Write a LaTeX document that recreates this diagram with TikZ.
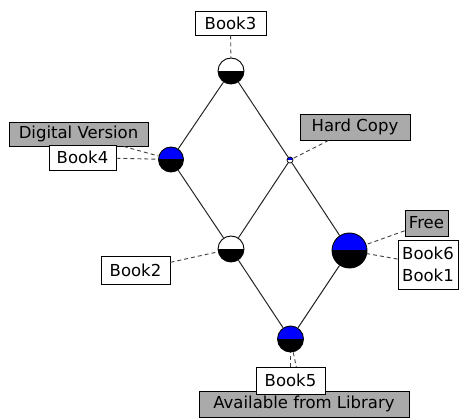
\documentclass[tikz,border=0pt]{standalone}
\usepackage{fontspec}
\setmainfont{DejaVu Sans}
\usepackage{tikz}
\definecolor{latBlue}{RGB}{0,0,255}
\definecolor{latGray}{RGB}{170,170,170}

\begin{document}
\begin{tikzpicture}[x=1pt, y=-1pt,
    concept/.style 2 args={circle, draw=black, line width=0.9pt, inner sep=0pt, minimum size=26pt,
        path picture={\fill[#1] (path picture bounding box.north west) rectangle (path picture bounding box.east);
                      \fill[#2] (path picture bounding box.west) rectangle (path picture bounding box.south east);}},
    extent/.style={rectangle, draw=black, line width=0.9pt, fill=white, inner xsep=4pt, inner ysep=2pt, minimum height=25pt, align=center, font=\fontsize{16.5}{22.5}\selectfont},
    intent/.style={extent, fill=latGray},
    hasse/.style={draw=black!85, line width=1pt},
    link/.style={draw=black!75, line width=0.9pt, dash pattern=on 4pt off 3pt}
]
\useasboundingbox (0,0) rectangle (463,419);
% lattice
\node[concept={white}{black}] (c3) at (231,71) {};
\node[concept={latBlue}{black}, minimum size=25pt] (c4) at (171,159.5) {};
\node[concept={latBlue}{white}, minimum size=6pt, line width=0.7pt] (hc) at (290,160) {};
\node[concept={white}{black}] (c2) at (231,249) {};
\node[concept={latBlue}{black}, minimum size=35pt] (c6) at (349.5,250.5) {};
\node[concept={latBlue}{black}] (c5) at (290.5,339) {};
\draw[hasse] (c3) -- (c4);
\draw[hasse] (c3) -- (hc);
\draw[hasse] (c4) -- (c2);
\draw[hasse] (hc) -- (c2);
\draw[hasse] (hc) -- (c6);
\draw[hasse] (c2) -- (c5);
\draw[hasse] (c6) -- (c5);
% labels
\node[extent, minimum width=71pt, minimum height=24pt] (l3) at (230.5,23) {Book3};
\draw[link] (l3) -- (c3);
\node[intent, minimum width=139pt, minimum height=24pt] (ldv) at (78.5,134) {Digital Version};
\draw[link] (ldv) -- (c4);
\node[extent, minimum width=67pt] (l4) at (82.5,157.5) {Book4};
\draw[link] (l4) -- (c4);
\node[intent, minimum width=110pt, minimum height=26pt] (lhc) at (355,127) {Hard Copy};
\draw[link] (lhc) -- (hc);
\node[intent, minimum width=43pt, minimum height=26pt] (lfree) at (426.5,223) {Free};
\draw[link] (lfree) -- (c6);
\node[extent, minimum width=60pt, minimum height=49pt] (l61) at (428,264.5) {Book6\\Book1};
\draw[link] (l61) -- (c6);
\node[extent, minimum width=69pt, minimum height=28pt] (l2) at (135.5,270) {Book2};
\draw[link] (l2) -- (c2);
\node[intent, minimum width=210pt, minimum height=26pt] (llib) at (304,404) {Available from Library};
\draw[link] (llib) -- (c5);
\node[extent, minimum width=69pt, minimum height=27pt] (l5) at (290.5,380.5) {Book5};
\draw[link] (l5) -- (c5);
\end{tikzpicture}
\end{document}
